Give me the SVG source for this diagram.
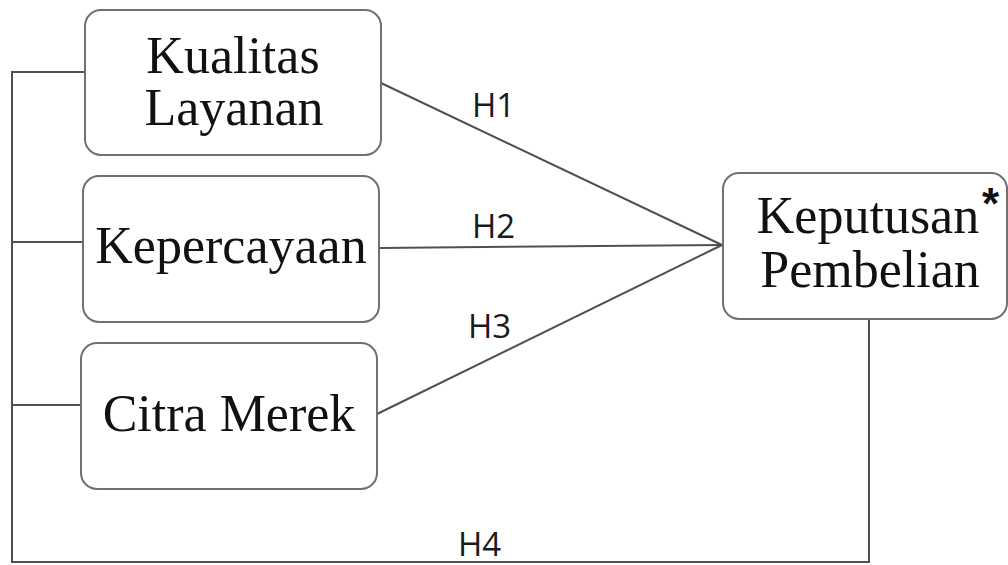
<svg xmlns="http://www.w3.org/2000/svg" width="1008" height="565" viewBox="0 0 1008 565">
<style>
.box{fill:#fff;stroke:#707070;stroke-width:2}
.lbl{font-family:"Liberation Serif","Times New Roman",serif;font-size:52px;fill:#111;text-anchor:middle}
.h{font-family:"Open Sans","Liberation Sans",sans-serif;font-size:33px;fill:#1a1a1a}
.con{fill:none;stroke:#505050;stroke-width:2}
</style>
<rect width="1008" height="565" fill="#fff"/>
<g id="connectors">
<path class="con" d="M85,72 H12 V562 H869 V319"/>
<line class="con" x1="12" y1="242" x2="83" y2="242"/>
<line class="con" x1="12" y1="405" x2="81" y2="405"/>
<line class="con" x1="381" y1="83" x2="722" y2="245"/>
<line class="con" x1="379" y1="248" x2="722" y2="245"/>
<line class="con" x1="377" y1="414" x2="722" y2="245"/>
<text class="h" x="472" y="117">H1</text>
<text class="h" x="472" y="238">H2</text>
<text class="h" x="468" y="338">H3</text>
<text class="h" x="458" y="556">H4</text>
</g>
<g id="kualitas">
<rect class="box" x="85" y="10" width="296" height="145" rx="16"/>
<text class="lbl" x="233" y="73">Kualitas</text>
<text class="lbl" x="234" y="125">Layanan</text>
</g>
<g id="kepercayaan">
<rect class="box" x="83" y="176" width="296" height="146" rx="16"/>
<text class="lbl" x="231" y="263">Kepercayaan</text>
</g>
<g id="citra">
<rect class="box" x="81" y="343" width="296" height="146" rx="16"/>
<text class="lbl" x="229" y="431">Citra Merek</text>
</g>
<g id="keputusan">
<rect class="box" x="723" y="173" width="284" height="146" rx="16"/>
<text class="lbl" x="868" y="233">Keputusan</text>
<text class="lbl" x="870" y="287">Pembelian</text>
<text x="982" y="219" font-family="Liberation Sans,Arial,sans-serif" font-size="44" font-weight="bold" fill="#111">*</text>
</g>
</svg>
